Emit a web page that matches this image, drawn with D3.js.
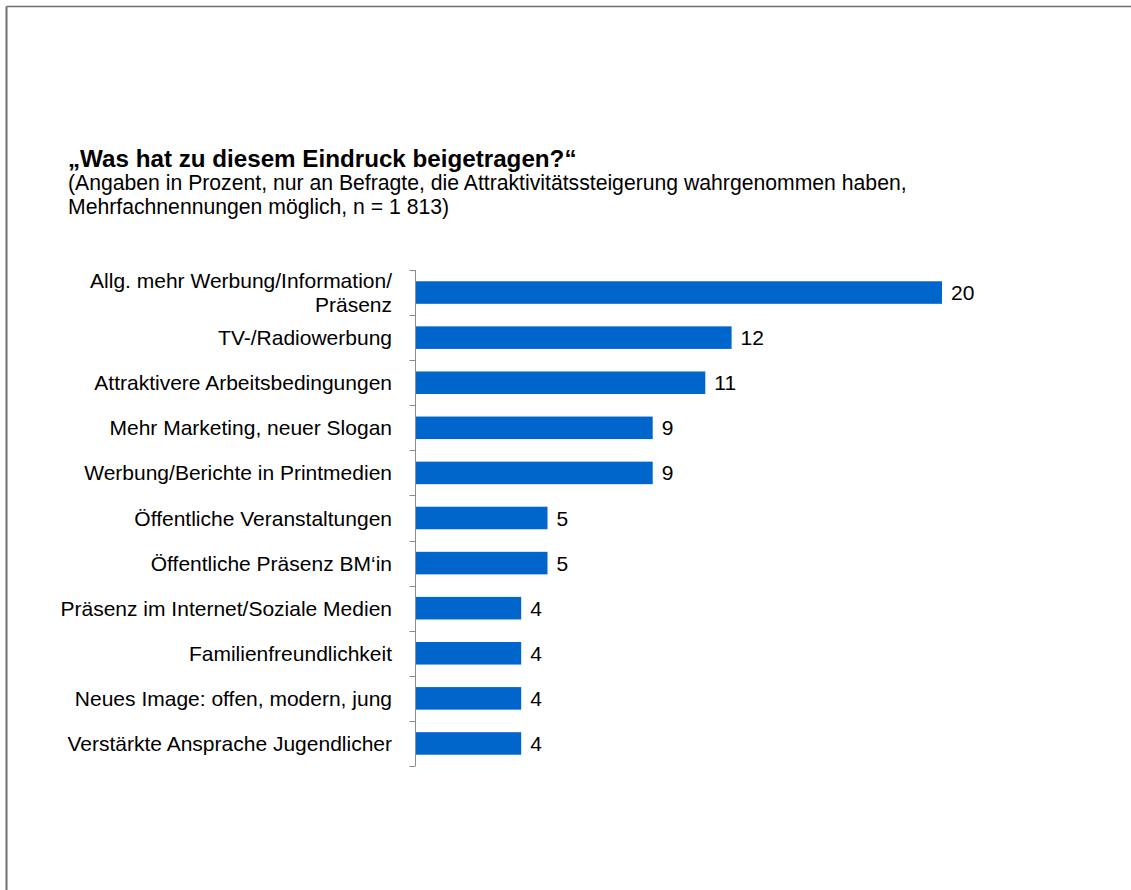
<!DOCTYPE html>
<html>
<head>
<meta charset="utf-8">
<script src="https://cdn.jsdelivr.net/npm/d3@7"></script>
<style>
  html, body { margin: 0; padding: 0; background: #fff; }
  svg { display: block; font-family: "Liberation Sans", Arial, sans-serif; }
</style>
</head>
<body>
<svg id="chart" width="1131" height="890"></svg>
<script>
const categories = [
  ["Allg. mehr Werbung/Information/", "Präsenz"],
  ["TV-/Radiowerbung"],
  ["Attraktivere Arbeitsbedingungen"],
  ["Mehr Marketing, neuer Slogan"],
  ["Werbung/Berichte in Printmedien"],
  ["Öffentliche Veranstaltungen"],
  ["Öffentliche Präsenz BM‘in"],
  ["Präsenz im Internet/Soziale Medien"],
  ["Familienfreundlichkeit"],
  ["Neues Image: offen, modern, jung"],
  ["Verstärkte Ansprache Jugendlicher"]
];
const values = [20, 12, 11, 9, 9, 5, 5, 4, 4, 4, 4];
const titleText = "„Was hat zu diesem Eindruck beigetragen?“";
const subtitleLines = [
  "(Angaben in Prozent, nur an Befragte, die Attraktivitätssteigerung wahrgenommen haben,",
  "Mehrfachnennungen möglich, n = 1 813)"
];

const svg = d3.select("#chart");

// frame lines (top and left)
svg.append("line").attr("x1", 6.5).attr("x2", 1131).attr("y1", 6.5).attr("y2", 6.5)
  .attr("stroke", "#6e6e6e").attr("stroke-width", 1.5);
svg.append("line").attr("x1", 6.5).attr("x2", 6.5).attr("y1", 6.5).attr("y2", 890)
  .attr("stroke", "#6e6e6e").attr("stroke-width", 2);

// title
svg.append("text").attr("x", 68).attr("y", 167)
  .attr("font-size", 24.2).attr("font-weight", "bold").attr("fill", "#000")
  .text(titleText);
svg.selectAll("text.sub").data(subtitleLines).enter().append("text")
  .attr("class", "sub")
  .attr("x", 68).attr("y", (d, i) => 190 + i * 23.5)
  .attr("font-size", 21.2).attr("fill", "#000")
  .text(d => d);

const x0 = 416, y0 = 270, y1 = 766;
const x = d3.scaleLinear().domain([0, 20]).range([x0, 942]);
const idx = d3.range(categories.length);
const y = d3.scaleBand().domain(idx).range([y0, y1]).paddingInner(0.5).paddingOuter(0.25);

// axis line + ticks between categories
const axisX = 415.5;
svg.append("line").attr("x1", axisX).attr("x2", axisX).attr("y1", y0).attr("y2", y1)
  .attr("stroke", "#8c8c8c").attr("stroke-width", 1);
const step = y.step();
const tickYs = d3.range(categories.length + 1).map(i => y0 + i * step);
svg.selectAll("line.tick").data(tickYs).enter().append("line")
  .attr("class", "tick")
  .attr("x1", axisX - 6).attr("x2", axisX)
  .attr("y1", d => Math.round(d) + 0.5).attr("y2", d => Math.round(d) + 0.5)
  .attr("stroke", "#8c8c8c").attr("stroke-width", 1);

// bars
svg.selectAll("rect.bar").data(values).enter().append("rect")
  .attr("class", "bar")
  .attr("x", x(0))
  .attr("y", (d, i) => y(i))
  .attr("width", d => x(d) - x(0))
  .attr("height", y.bandwidth())
  .attr("fill", "#0066cc");

// value labels
svg.selectAll("text.val").data(values).enter().append("text")
  .attr("class", "val")
  .attr("x", d => x(d) + 9)
  .attr("y", (d, i) => y(i) + y.bandwidth() / 2)
  .attr("dy", "0.36em")
  .attr("font-size", 21).attr("fill", "#000")
  .text(d => d);

// category labels
const lab = svg.selectAll("text.cat").data(categories).enter().append("text")
  .attr("class", "cat")
  .attr("text-anchor", "end")
  .attr("font-size", 21).attr("fill", "#000");
lab.each(function(lines, i) {
  const cy = y(i) + y.bandwidth() / 2;
  const lh = 23.5;
  const top = cy - (lines.length - 1) * lh / 2;
  d3.select(this).selectAll("tspan").data(lines).enter().append("tspan")
    .attr("x", 392)
    .attr("y", (d, j) => top + j * lh)
    .attr("dy", "0.36em")
    .text(d => d);
});
</script>
</body>
</html>
